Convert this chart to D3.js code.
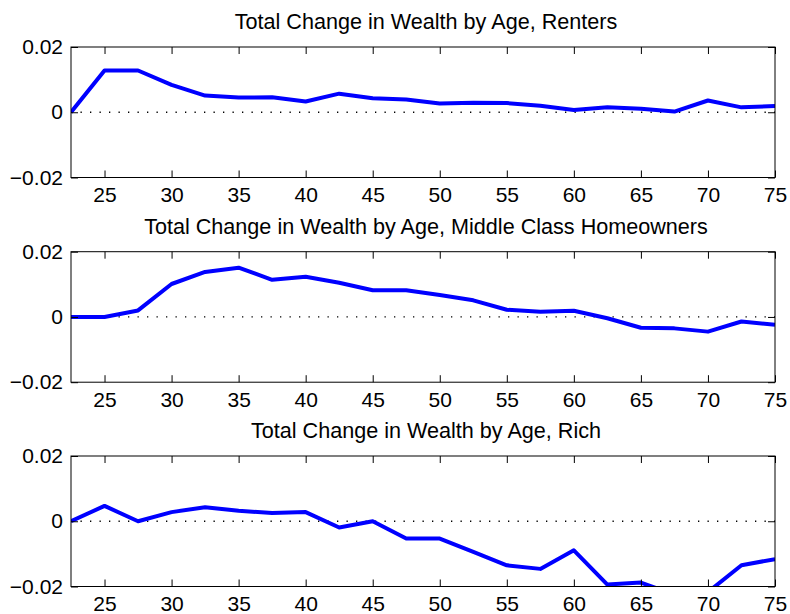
<!DOCTYPE html>
<html>
<head>
<meta charset="utf-8">
<script src="https://cdn.jsdelivr.net/npm/d3@7"></script>
<style>
  body { margin: 0; background: #fff; }
  svg text { font-family: "Liberation Sans", Arial, sans-serif; fill: #000; }
</style>
</head>
<body>
<div id="chart"></div>
<script>
const ages = [22.5, 25, 27.5, 30, 32.5, 35, 37.5, 40, 42.5, 45, 47.5, 50,
              52.5, 55, 57.5, 60, 62.5, 65, 67.5, 70, 72.5, 75];

const renters = [0, 0.0128, 0.0128, 0.0084, 0.0051, 0.0045, 0.0046, 0.0033, 0.0057, 0.0043, 0.0039,
                 0.0027, 0.0029, 0.0028, 0.0020, 0.0007, 0.0015, 0.0011, 0.0002, 0.0036, 0.0015, 0.0019];

const middleClass = [0, 0, 0.0020, 0.0101, 0.0138, 0.0151, 0.0114, 0.0123, 0.0105, 0.0082, 0.0082,
                     0.0067, 0.0051, 0.0022, 0.0016, 0.0019, -0.0004, -0.0033, -0.0035, -0.0045, -0.0014, -0.0024];

const rich = [0, 0.0047, 0, 0.0028, 0.0043, 0.0032, 0.0025, 0.0028, -0.0019, 0, -0.0053,
              -0.0053, -0.0094, -0.0135, -0.0146, -0.0089, -0.0194, -0.0188, -0.0225, -0.0217, -0.0135, -0.0116];

const titles = ["Total Change in Wealth by Age, Renters",
                "Total Change in Wealth by Age, Middle Class Homeowners",
                "Total Change in Wealth by Age, Rich"];

const xTicks = [25, 30, 35, 40, 45, 50, 55, 60, 65, 70, 75];
const yTicks = [-0.02, 0, 0.02];

const svgWidth = 790, svgHeight = 614;
const plotLeft = 71, plotRight = 775;
const panelTops = [47, 251.7, 456];
const panelHeight = 130.5;
const tickLen = 7;
const fontSize = 21;

const svg = d3.select("#chart").append("svg")
    .attr("width", svgWidth)
    .attr("height", svgHeight);

const xScale = d3.scaleLinear().domain([22.5, 75]).range([0, plotRight - plotLeft]);
const yScale = d3.scaleLinear().domain([-0.02, 0.02]).range([panelHeight, 0]);

const yFormat = function(d) {
    return d === 0 ? "0" : d3.format(".2f")(d);
};

const line = d3.line()
    .x(function(d) { return xScale(d[0]); })
    .y(function(d) { return yScale(d[1]); });

const drawPanel = function(i, values) {
    const w = plotRight - plotLeft;
    const g = svg.append("g")
        .attr("transform", `translate(${plotLeft}, ${panelTops[i]})`);

    g.append("defs").append("clipPath")
        .attr("id", "clip" + i)
        .append("rect")
        .attr("width", w)
        .attr("height", panelHeight);

    // zero reference line
    g.append("line")
        .attr("x1", xScale(22.5)).attr("x2", xScale(75))
        .attr("y1", yScale(0)).attr("y2", yScale(0))
        .attr("stroke", "#000")
        .attr("stroke-width", 1.3)
        .attr("stroke-dasharray", "1.3 8.2");

    g.append("path")
        .datum(ages.map(function(a, k) { return [a, values[k]]; }))
        .attr("clip-path", `url(#clip${i})`)
        .attr("fill", "none")
        .attr("stroke", "#0000ff")
        .attr("stroke-width", 4)
        .attr("stroke-linejoin", "round")
        .attr("d", line);

    const bottomAxis = g.append("g")
        .attr("transform", `translate(0, ${panelHeight})`)
        .call(d3.axisBottom(xScale).tickValues(xTicks).tickSize(-tickLen).tickPadding(10));
    const topAxis = g.append("g")
        .call(d3.axisTop(xScale).tickValues(xTicks).tickSize(-tickLen).tickFormat(""));
    const leftAxis = g.append("g")
        .call(d3.axisLeft(yScale).tickValues(yTicks).tickSize(-tickLen).tickPadding(8).tickFormat(yFormat));
    const rightAxis = g.append("g")
        .attr("transform", `translate(${w}, 0)`)
        .call(d3.axisRight(yScale).tickValues(yTicks).tickSize(-tickLen).tickFormat(""));

    [bottomAxis, topAxis, leftAxis, rightAxis].forEach(function(ax) {
        ax.select(".domain").remove();
        ax.selectAll("line").attr("stroke", "#000");
        ax.selectAll("text")
          .attr("font-size", fontSize)
          .attr("font-family", '"Liberation Sans", Arial, sans-serif')
          .attr("fill", "#000");
    });

    g.append("rect")
        .attr("width", w)
        .attr("height", panelHeight)
        .attr("fill", "none")
        .attr("stroke", "#000")
        .attr("stroke-width", 1);

    g.append("text")
        .attr("x", w / 2 + 3)
        .attr("y", -18)
        .attr("text-anchor", "middle")
        .attr("font-size", 21.6)
        .text(titles[i]);
};

drawPanel(0, renters);
drawPanel(1, middleClass);
drawPanel(2, rich);
</script>
</body>
</html>
